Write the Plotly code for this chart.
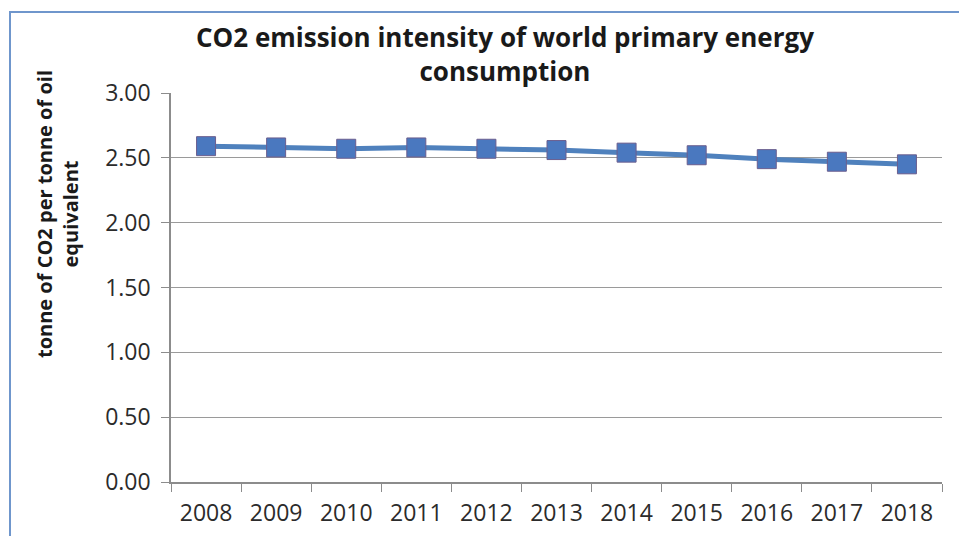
import plotly.graph_objects as go

# CO2 emission intensity of world primary energy consumption, 2008-2018
years = ["2008", "2009", "2010", "2011", "2012", "2013", "2014", "2015", "2016", "2017", "2018"]
intensity = [2.59, 2.58, 2.57, 2.58, 2.57, 2.56, 2.54, 2.52, 2.49, 2.47, 2.45]

W, H = 959, 536
L, R, T, B = 171, 17, 93, 54
PW, PH = W - L - R, H - T - B

fig = go.Figure()
fig.add_trace(go.Scatter(
    x=years, y=intensity, mode="lines+markers",
    line=dict(color="#4f81bd", width=5),
    marker=dict(symbol="square", size=19, color="#4a78bf",
                line=dict(color="#6b5e8e", width=1)),
    showlegend=False,
))

fig.update_layout(
    width=W, height=H,
    margin=dict(l=L, r=R, t=T, b=B),
    paper_bgcolor="white", plot_bgcolor="white",
    font=dict(family="Open Sans", color="#2b2b2b"),
    xaxis=dict(
        type="category", range=[-0.5, 10.5], tickson="boundaries",
        ticks="outside", ticklen=8, ticklabelstandoff=10, automargin=False,
        tickcolor="#8c8c8c", showline=True, linecolor="#8c8c8c", linewidth=1.5,
        showgrid=False, tickfont=dict(size=23, color="#2b2b2b"),
    ),
    yaxis=dict(
        range=[0, 3], dtick=0.5, tickformat=".2f", ticks="outside", ticklen=8,
        automargin=False,
        tickcolor="#8c8c8c", showline=True, linecolor="#8c8c8c", linewidth=1.5,
        gridcolor="#9a9a9a", gridwidth=1.3, zeroline=False,
        tickfont=dict(size=23, color="#2b2b2b"), ticksuffix=" ",
    ),
    shapes=[dict(type="rect", xref="paper", yref="paper",
                 x0=-(L - 10) / PW, x1=1 + (R + 5) / PW,
                 y0=-(B + 5) / PH, y1=1 + (T - 12) / PH,
                 line=dict(color="#6f96cc", width=2))],
    annotations=[
        dict(text="<b>CO2 emission intensity of world primary energy<br>consumption</b>",
             xref="paper", yref="paper",
             x=(505 - L) / PW, y=1 + (T - 54) / PH,
             xanchor="center", yanchor="middle", showarrow=False,
             font=dict(family="Open Sans", size=26, color="#1a1a1a")),
        dict(text="<b>tonne of CO2 per tonne of oil<br>equivalent</b>",
             xref="paper", yref="paper", textangle=-90,
             x=-(L - 57) / PW, y=(H - B - 214) / PH,
             xanchor="center", yanchor="middle", showarrow=False,
             font=dict(family="Open Sans", size=20, color="#1a1a1a")),
    ],
)

fig.write_html("out.html")
